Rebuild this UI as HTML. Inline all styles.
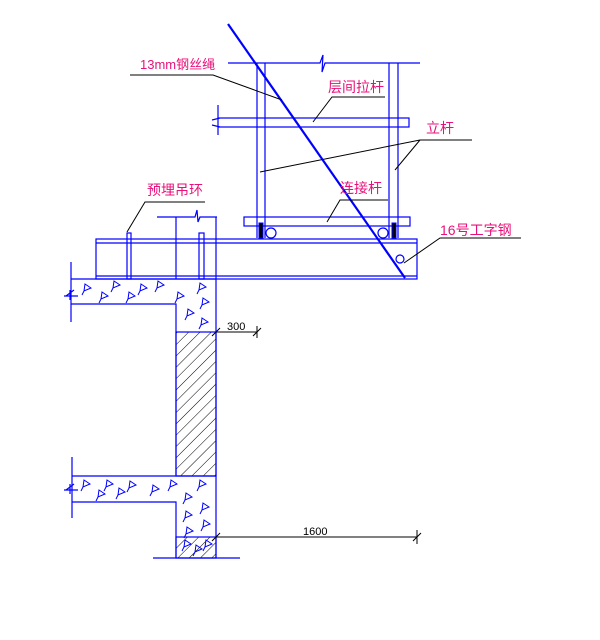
<!DOCTYPE html>
<html><head><meta charset="utf-8"><style>
html,body{margin:0;padding:0;background:#fff;width:600px;height:640px;overflow:hidden}
svg{display:block}
text{font-family:"Liberation Sans","Noto Sans CJK SC",sans-serif}
.m{fill:#e8107a;font-size:14px}
.k{fill:#000;font-size:11px}
</style></head><body>
<svg width="600" height="640" viewBox="0 0 600 640" xmlns="http://www.w3.org/2000/svg">
<defs>
<pattern id="h" patternUnits="userSpaceOnUse" width="8" height="8" patternTransform="rotate(45)">
<line x1="0" y1="0" x2="0" y2="8" stroke="#000" stroke-width="1"/>
</pattern>
<path id="t" d="M0,-4 L6,0 L-1,3 Z M-1,3 L-3,7" fill="none" stroke="#0000ff" stroke-width="1"/>
</defs>
<g fill="none" stroke="#0000ff" stroke-width="1.2">
<!-- top frame -->
<path d="M228,63 H320 L323,55 L322,72 L325,63 H420"/>
<line x1="257" y1="63" x2="257" y2="238"/>
<line x1="265" y1="63" x2="265" y2="238"/>
<line x1="389" y1="63" x2="389" y2="238"/>
<line x1="398" y1="63" x2="398" y2="238"/>
<!-- 层间拉杆 bar -->
<rect x="218" y="118" width="191" height="9"/>
<path d="M218,105 V118 M218,127 V135 M212,120 L220,118 M212,125 L220,127"/>
<!-- connecting bar -->
<rect x="244" y="217" width="166" height="9"/>
<!-- left upper line -->
<path d="M157,217 H195 L197,210 L198,222 L200,217 H217"/>
<line x1="176" y1="217" x2="176" y2="279"/>
<line x1="216" y1="217" x2="216" y2="558"/>
<!-- I-beam -->
<rect x="96" y="239" width="321" height="40"/>
<line x1="96" y1="243" x2="417" y2="243"/>
<line x1="96" y1="276" x2="417" y2="276"/>
<rect x="127" y="233" width="4" height="46"/>
<rect x="199" y="233" width="5" height="46"/>
<circle cx="271" cy="233" r="5"/>
<circle cx="383" cy="233" r="5"/>
<circle cx="400" cy="259" r="4"/>
<!-- upper slab -->
<path d="M71,279 H216 M71,304 H176 V475 M71,262 V322"/>
<path d="M66,296 L74,290 M64,296 H78 M70,290 V300"/>
<rect x="176" y="332" width="40" height="144" fill="url(#h)"/>
<!-- lower slab -->
<path d="M72,476 H216 M72,502 H176 V558 M72,457 V518"/>
<path d="M66,490 L74,484 M64,490 H78 M70,484 V494"/>
<rect x="176" y="537" width="40" height="21" fill="url(#h)"/>
<line x1="153" y1="558" x2="240" y2="558"/>
</g>
<rect x="259" y="223" width="4" height="15" fill="#000" stroke="#0000ff"/>
<rect x="392" y="223" width="4" height="15" fill="#000" stroke="#0000ff"/>
<line x1="228" y1="24" x2="405" y2="278" stroke="#0000ff" stroke-width="2.2"/>
<!-- triangles -->
<g>
<use href="#t" x="85" y="288"/><use href="#t" x="102" y="296"/><use href="#t" x="114" y="285"/>
<use href="#t" x="129" y="296"/><use href="#t" x="141" y="288"/><use href="#t" x="158" y="285"/>
<use href="#t" x="178" y="296"/><use href="#t" x="200" y="287"/><use href="#t" x="203" y="302"/>
<use href="#t" x="188" y="313"/><use href="#t" x="202" y="322"/>
<use href="#t" x="84" y="484"/><use href="#t" x="99" y="494"/><use href="#t" x="107" y="484"/>
<use href="#t" x="119" y="492"/><use href="#t" x="130" y="485"/><use href="#t" x="153" y="489"/>
<use href="#t" x="171" y="484"/><use href="#t" x="200" y="484"/><use href="#t" x="186" y="497"/>
<use href="#t" x="203" y="507"/><use href="#t" x="186" y="515"/><use href="#t" x="204" y="524"/>
<use href="#t" x="187" y="531"/><use href="#t" x="185" y="544"/><use href="#t" x="196" y="549"/><use href="#t" x="206" y="544"/>
</g>
<!-- leaders -->
<g stroke="#000" stroke-width="1" fill="none">
<path d="M130,75 H213 L282,100"/>
<path d="M385,97 H332 L313,122"/>
<path d="M472,140 H420 L260,172 M420,140 L395,170"/>
<path d="M205,202 H145 L127,232"/>
<path d="M388,200 H340 L327,222"/>
<path d="M521,238 H440 L404,263"/>
<path d="M216,332 H257 M212,336 L220,328 M257,326 V338 M253,336 L261,328"/>
<path d="M216,537 H417 M212,541 L220,533 M417,530 V544 M413,541 L421,533"/>
</g>
<text class="k" x="227" y="330">300</text>
<text class="k" x="303" y="535">1600</text>
<text class="m" x="140" y="69" style="font-size:13px">13mm钢丝绳</text>
<text class="m" x="328" y="92">层间拉杆</text>
<text class="m" x="426" y="133">立杆</text>
<text class="m" x="147" y="195">预埋吊环</text>
<text class="m" x="340" y="193">连接杆</text>
<text class="m" x="440" y="235">16号工字钢</text>
</svg>
</body></html>
